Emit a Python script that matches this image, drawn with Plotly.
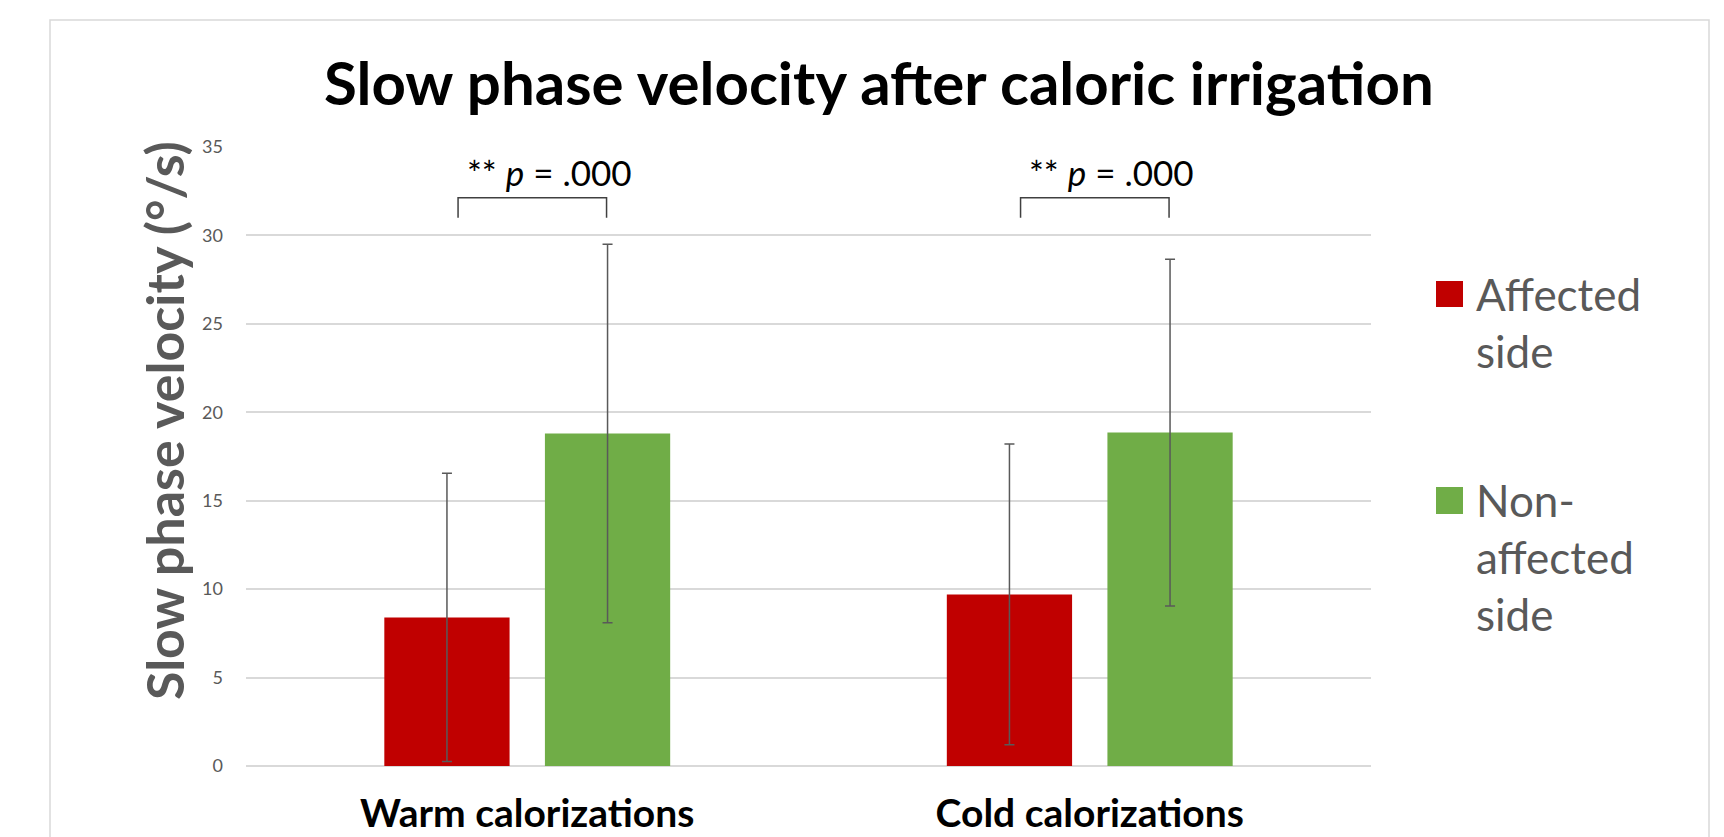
import plotly.graph_objects as go

categories = ["Warm calorizations", "Cold calorizations"]
series_names = ["Affected side", "Non-affected side"]
legend_labels = ["Affected<br>side", "Non-<br>affected<br>side"]
affected_mean = [8.4, 9.7]
affected_sd = [8.15, 8.5]
nonaffected_mean = [18.8, 18.85]
nonaffected_sd = [10.7, 9.8]
colors = ["#C00000", "#70AD47"]
p_labels = ["** <i>p</i> = .000", "** <i>p</i> = .000"]
yticks = [0, 5, 10, 15, 20, 25, 30, 35]

W, H = 1724, 837
L, R, T, B = 246, 1371, 147, 766  # plot area in px

def px_x(px):
    return (px - L) / (R - L)

def px_y(py):
    return (B - py) / (B - T)

xpos = list(range(len(categories)))

fig = go.Figure()
for name, mean, sd, col in [(series_names[0], affected_mean, affected_sd, colors[0]),
                            (series_names[1], nonaffected_mean, nonaffected_sd, colors[1])]:
    fig.add_trace(go.Bar(
        x=xpos, y=mean, name=name, marker=dict(color=col, line=dict(width=0)),
        error_y=dict(type="data", array=sd, visible=True, color="#595959", thickness=1.5, width=5),
        showlegend=False,
    ))

FONT = "Lato"
GRAY = "#595959"

fig.update_layout(
    template="none",
    width=W, height=H, autosize=False,
    margin=dict(l=L, r=W - R, t=T, b=H - B, pad=0, autoexpand=False),
    paper_bgcolor="white", plot_bgcolor="white",
    barmode="group", bargap=0.429, bargroupgap=0.22,
    font=dict(family=FONT, color=GRAY),
    showlegend=False,
    xaxis=dict(tickmode="array", tickvals=xpos, ticktext=categories, range=[-0.5, len(categories) - 0.5],
               showgrid=False, zeroline=False, showline=False, ticks="", automargin=False,
               tickfont=dict(family=FONT, size=39, color="black", weight="bold"),
               ticklabelstandoff=21),
    yaxis=dict(range=[0, 35], tickmode="array", tickvals=yticks, showgrid=True, gridcolor="#d9d9d9",
               gridwidth=1.5, zeroline=True, zerolinecolor="#d9d9d9", zerolinewidth=1.5,
               showline=False, ticks="", automargin=False, tickfont=dict(family=FONT, size=18, color=GRAY),
               ticklabelstandoff=22),
)

annotations = []
shapes = []

# outer chart border
shapes.append(dict(type="rect", xref="paper", yref="paper",
                   x0=px_x(50), x1=px_x(1709), y0=px_y(860), y1=px_y(20),
                   line=dict(color="#d9d9d9", width=1.5), fillcolor="rgba(0,0,0,0)", layer="below"))

# title
annotations.append(dict(text="<b>Slow phase velocity after caloric irrigation</b>", xref="paper", yref="paper",
                        x=px_x(879), y=px_y(82), xanchor="center", yanchor="middle", showarrow=False,
                        font=dict(family=FONT, size=60, color="black")))

# y-axis title
annotations.append(dict(text="<b>Slow phase velocity (°/s)</b>", xref="paper", yref="paper",
                        x=px_x(164), y=px_y(421), xanchor="center", yanchor="middle", textangle=-90,
                        showarrow=False, font=dict(family=FONT, size=52, color=GRAY)))

# significance brackets
for i, lab in enumerate(p_labels):
    x0 = xpos[i] - 0.123
    x1 = xpos[i] + 0.141
    shapes.append(dict(type="path", xref="x", yref="y",
                       path=f"M {x0},31.0 L {x0},32.13 L {x1},32.13 L {x1},31.0",
                       line=dict(color="#404040", width=1.5)))
    annotations.append(dict(text=lab, xref="x", yref="y", x=(x0 + x1) / 2 + 0.03, y=33.6,
                            xanchor="center", yanchor="middle", showarrow=False,
                            font=dict(family=FONT, size=35, color="black")))

# legend (manual, to match large squares)
sq = [(281, 307), (487, 514)]
txt_y = [322, 557]
for i in range(2):
    shapes.append(dict(type="rect", xref="paper", yref="paper",
                       x0=px_x(1436), x1=px_x(1463), y0=px_y(sq[i][1]), y1=px_y(sq[i][0]),
                       fillcolor=colors[i], line=dict(width=0)))
    annotations.append(dict(text=legend_labels[i], xref="paper", yref="paper",
                            x=px_x(1474), y=px_y(txt_y[i]), xanchor="left", yanchor="middle", align="left",
                            showarrow=False, font=dict(family=FONT, size=44, color=GRAY)))

fig.update_layout(annotations=annotations, shapes=shapes)

fig.write_html("out.html", config={"displayModeBar": False},
               post_script="document.body.style.margin='0';document.body.style.overflow='hidden';")
